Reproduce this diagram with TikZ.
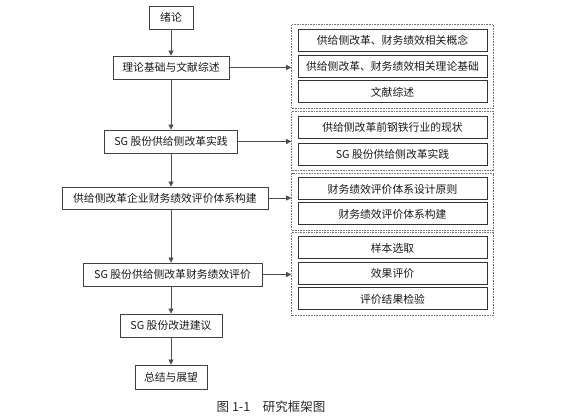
\documentclass[tikz,border=0pt]{standalone}
\usepackage{fontspec}
\newfontfamily\cjk{Noto Sans CJK SC}
\usetikzlibrary{arrows.meta}
\usetikzlibrary{fit}

\begin{document}
\begin{tikzpicture}[x=1pt,y=-1pt,
 box/.style={draw=black!75, line width=.8pt, minimum height=23pt, inner sep=0, font=\cjk\fontsize{10.8}{12}\selectfont, text=black!90},
 sub/.style={box, draw=black!80, line width=1pt, minimum width=189pt, minimum height=22pt},
 grp/.style={draw=black!55, densely dotted, line width=.6pt, inner xsep=6pt, inner ysep=4.5pt},
 arr/.style={draw=black!70, line width=.6pt, -{Triangle[length=5pt,width=5pt]}}]
\useasboundingbox (0,0) rectangle (566,417);
% main chain
\node[box, minimum width=44pt] (intro) at (171,17.5) {绪论};
\node[box, minimum width=116pt] (theory) at (171,67.5) {理论基础与文献综述};
\node[box, minimum width=133pt] (practice) at (171,141.5) {SG 股份供给侧改革实践};
\node[box, minimum width=206pt, minimum height=22pt] (system) at (165,198) {供给侧改革企业财务绩效评价体系构建};
\node[box, minimum width=179pt] (eval) at (172.5,274.5) {SG 股份供给侧改革财务绩效评价};
\node[box, minimum width=102pt] (advice) at (171,325.5) {SG 股份改进建议};
\node[box, minimum width=72pt, minimum height=24pt] (summary) at (171,377) {总结与展望};
% side boxes
\foreach \n/\y/\t in {a1/40.5/供给侧改革、财务绩效相关概念, a2/66.5/供给侧改革、财务绩效相关理论基础, a3/92/文献综述,
 b1/127.5/供给侧改革前钢铁行业的现状, b2/154.5/SG 股份供给侧改革实践,
 c1/189/财务绩效评价体系设计原则, c2/214/财务绩效评价体系构建,
 d1/248/样本选取, d2/273.5/效果评价, d3/299/评价结果检验}
 \node[sub] (\n) at (392.5,\y) {\t};
\node[grp, fit=(a1)(a3)] (ga) {};
\node[grp, fit=(b1)(b2)] (gb) {};
\node[grp, fit=(c1)(c2)] (gc) {};
\node[grp, fit=(d1)(d3)] (gd) {};
% arrows
\draw[arr] (intro) -- (theory);
\draw[arr] (theory) -- (practice);
\draw[arr] (practice) -- (practice |- system.north);
\draw[arr] (system.south -| practice) -- (practice |- eval.north);
\draw[arr] (advice |- eval.south) -- (advice);
\draw[arr] (advice) -- (summary);
\draw[arr] (theory) -- (theory -| ga.west);
\draw[arr] (practice) -- (practice -| gb.west);
\draw[arr] (system) -- (system -| gc.west);
\draw[arr] (eval) -- (eval -| gd.west);
\node[font=\cjk\fontsize{12.5}{14}\selectfont, text=black!85] (cap) at (271,407) {图 1-1\quad 研究框架图};
\end{tikzpicture}
\end{document}
